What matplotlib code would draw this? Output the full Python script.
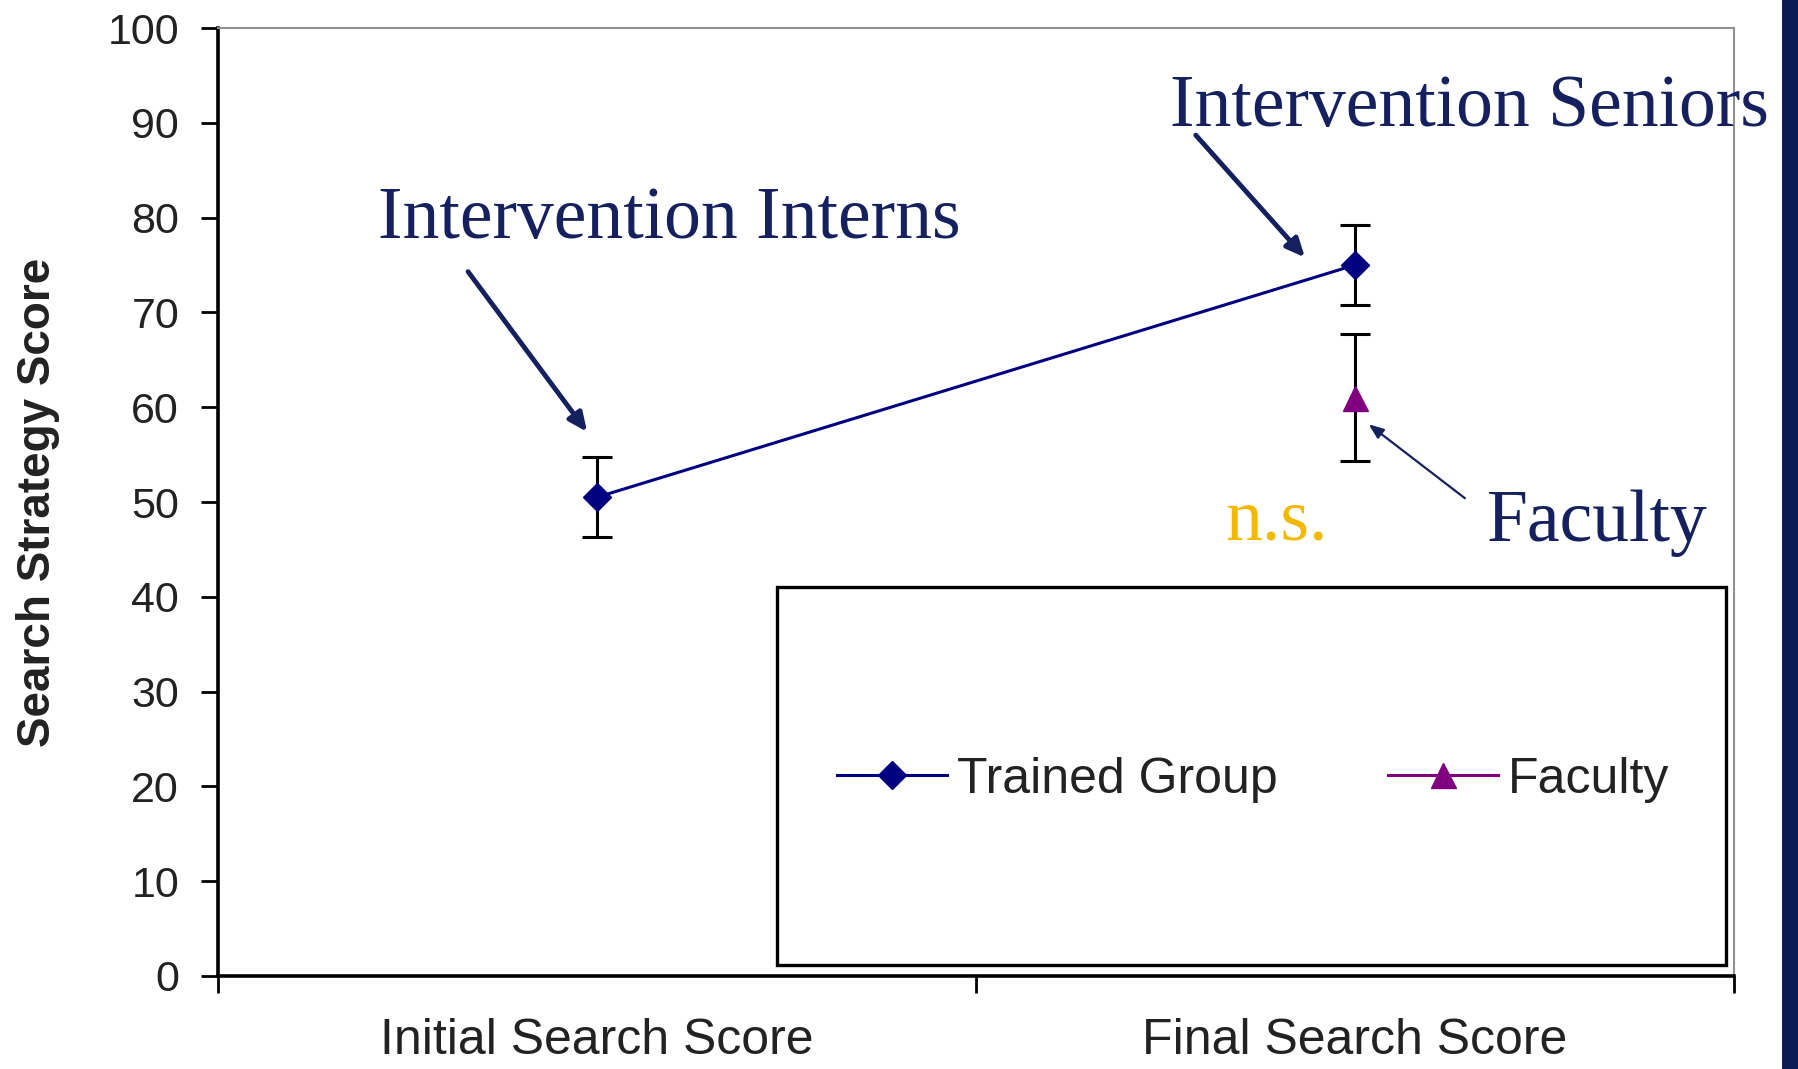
import numpy as np
import matplotlib
matplotlib.use("Agg")
import matplotlib.pyplot as plt
from matplotlib.patches import Rectangle

categories = ['Initial Search Score', 'Final Search Score']
trained = [50.5, 75.0]
trained_err = [4.2, 4.2]
faculty = [np.nan, 61.0]
faculty_err = [np.nan, 6.7]
yticks = [0, 10, 20, 30, 40, 50, 60, 70, 80, 90, 100]

NAVY = '#14215e'
fig = plt.figure(figsize=(17.98, 10.69), dpi=100)
fig.patch.set_facecolor('white')
ax = fig.add_axes([0.1212, 0.0870, 0.8432, 0.8868])

x = np.arange(len(categories))
ax.errorbar(x, trained, yerr=trained_err, fmt='none', ecolor='black',
            elinewidth=2.2, capsize=11, capthick=2.2, zorder=2)
ax.errorbar(x, faculty, yerr=faculty_err, fmt='none', ecolor='black',
            elinewidth=2.2, capsize=11, capthick=2.2, zorder=2)
l1, = ax.plot(x, trained, color='#000080', lw=2.2, marker='D', ms=14,
              mfc='#000080', mec='#000080', zorder=3, label='Trained Group')
l2, = ax.plot(x, faculty, color='#800080', lw=2.2, marker='^', ms=18,
              mfc='#800080', mec='#800080', zorder=3, label='Faculty')

ax.set_xlim(-0.5, 1.5)
ax.set_ylim(0, 100)
ax.set_yticks(yticks)
ax.set_yticklabels([str(v) for v in yticks], fontsize=31, color='#222222',
                   family='Liberation Sans')
ax.tick_params(axis='y', direction='out', length=12, width=2, pad=16)
ax.set_xticks(x)
ax.set_xticklabels(categories, fontsize=36, color='#222222', family='Liberation Sans')
ax.set_xticks([-0.5, 0.5, 1.5], minor=True)
ax.tick_params(axis='x', which='major', length=0, pad=30)
ax.tick_params(axis='x', which='minor', direction='out', length=12, width=2)

ax.set_ylabel('Search Strategy Score', fontsize=33, fontweight='bold',
              family='Liberation Sans', color='#222222')
ax.yaxis.set_label_coords(-0.104, 0.5)

for s in ['left', 'bottom']:
    ax.spines[s].set_linewidth(2.6)
    ax.spines[s].set_color('black')
for s in ['top', 'right']:
    ax.spines[s].set_linewidth(1.5)
    ax.spines[s].set_color('#909090')

# legend box
ax.add_patch(Rectangle((0.369, 0.0116), 0.626, 0.399, transform=ax.transAxes,
                       fill=True, facecolor='white', edgecolor='black', lw=2.4, zorder=4))
leg = ax.legend(handles=[l1, l2], loc='center', bbox_to_anchor=(0.683, 0.207),
                ncol=2, frameon=False, handlelength=2.2,
                handletextpad=0.2, columnspacing=2.2,
                prop={'family': 'Liberation Sans', 'size': 36})
leg.set_zorder(5)
for t in leg.get_texts():
    t.set_color('#222222')

# annotations
tfont = dict(family='Liberation Serif', fontsize=53, color=NAVY)
ax.annotate('', xy=(-0.013, 57.4), xytext=(-0.170, 74.3),
            arrowprops=dict(arrowstyle='-|>,head_length=1.1,head_width=0.5',
                            color=NAVY, lw=3.5, shrinkA=0, shrinkB=0))
ax.annotate('', xy=(0.934, 75.8), xytext=(0.790, 88.7),
            arrowprops=dict(arrowstyle='-|>,head_length=1.1,head_width=0.5',
                            color=NAVY, lw=3.5, shrinkA=0, shrinkB=0))
ax.annotate('', xy=(1.018, 58.2), xytext=(1.145, 50.4),
            arrowprops=dict(arrowstyle='-|>,head_length=0.9,head_width=0.35',
                            color=NAVY, lw=1.6, shrinkA=0, shrinkB=0))

fig.text(378 / 1798, 1 - 238 / 1069, 'Intervention Interns', ha='left', va='baseline', **tfont)
fig.text(1170 / 1798, 1 - 126 / 1069, 'Intervention Seniors', ha='left', va='baseline', **tfont)
fig.text(1487 / 1798, 1 - 541 / 1069, 'Faculty', ha='left', va='baseline', **tfont)
fig.text(1225 / 1798, 1 - 539 / 1069, 'n.s.', ha='left', va='baseline',
         family='Liberation Serif', fontsize=53, color='#F5B800')

# right navy band
fig.patches.append(Rectangle((1782 / 1798, 0), 1 - 1782 / 1798, 1,
                             transform=fig.transFigure, facecolor='#0b1c54',
                             edgecolor='none', zorder=10))

fig.savefig('out.png', dpi=100)
